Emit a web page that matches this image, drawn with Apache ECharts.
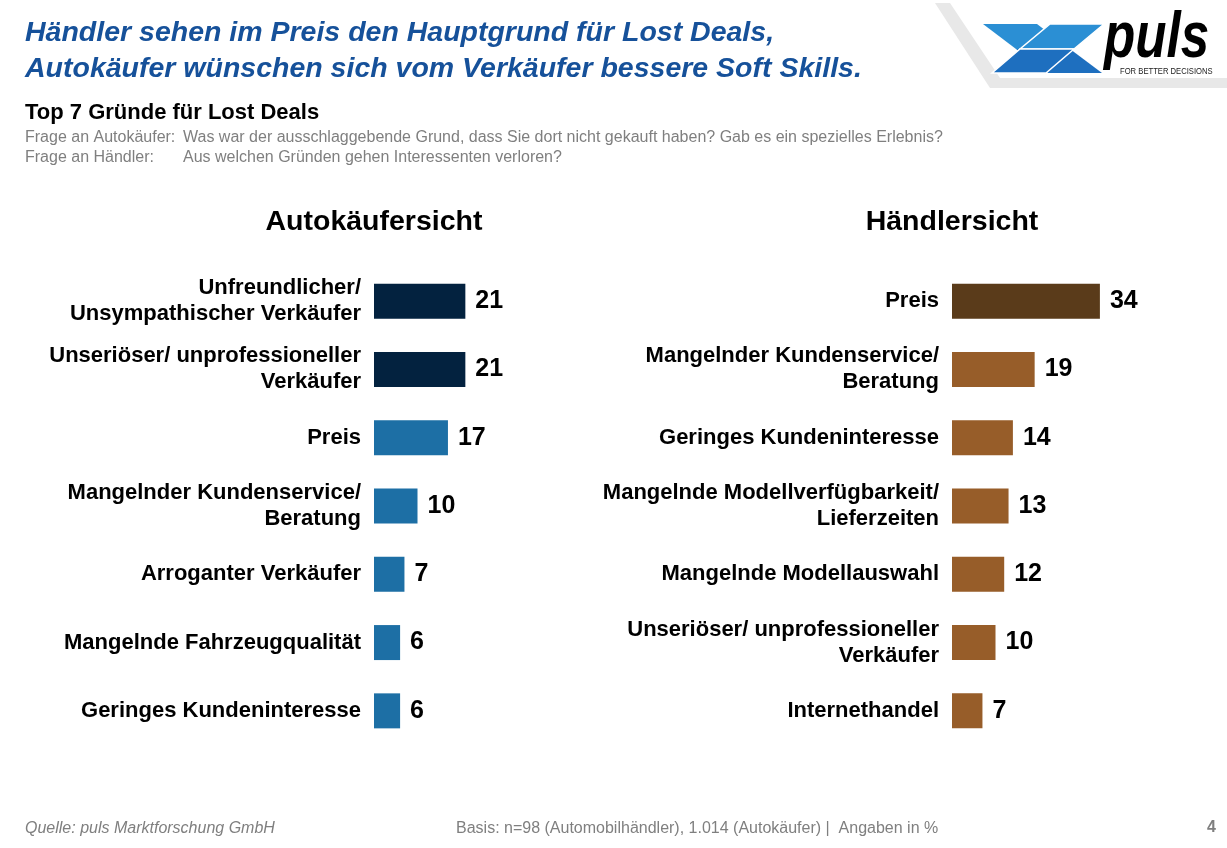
<!DOCTYPE html>
<html lang="de">
  <head>
    <meta charset="utf-8" />
    <style>
      html, body { margin: 0; width: 100%; height: 100%; background: #fff; }
      #container { width: 1227px; height: 848px; }
    </style>
    <script src="https://cdn.jsdelivr.net/npm/echarts@6/dist/echarts.min.js"></script>
  </head>
  <body>
    <div id="container"></div>
    <script>
      // Daten
      var buyerCats = [
        "Unfreundlicher/\nUnsympathischer Verkäufer",
        "Unseriöser/ unprofessioneller\nVerkäufer",
        "Preis",
        "Mangelnder Kundenservice/\nBeratung",
        "Arroganter Verkäufer",
        "Mangelnde Fahrzeugqualität",
        "Geringes Kundeninteresse"
      ];
      var buyerVals = [21, 21, 17, 10, 7, 6, 6];

      var dealerCats = [
        "Preis",
        "Mangelnder Kundenservice/\nBeratung",
        "Geringes Kundeninteresse",
        "Mangelnde Modellverfügbarkeit/\nLieferzeiten",
        "Mangelnde Modellauswahl",
        "Unseriöser/ unprofessioneller\nVerkäufer",
        "Internethandel"
      ];
      var dealerVals = [34, 19, 14, 13, 12, 10, 7];

      var FONT = "'Liberation Sans', Arial, sans-serif";
      var chart = echarts.init(document.getElementById("container"));

      function colored(vals, topN, topColor, baseColor) {
        return vals.map(function (v, i) {
          return { value: v, itemStyle: { color: i < topN ? topColor : baseColor } };
        });
      }

      function catAxis(idx, cats) {
        return {
          type: "category",
          gridIndex: idx,
          data: cats,
          inverse: true,
          axisLine: { show: false },
          axisTick: { show: false },
          axisLabel: {
            margin: 13,
            color: "#000",
            fontFamily: FONT,
            fontWeight: "bold",
            fontSize: 22,
            lineHeight: 26,
            align: "right",
            padding: [3, 0, 0, 0]
          }
        };
      }

      function valAxis(idx) {
        return {
          type: "value",
          gridIndex: idx,
          min: 0,
          max: 40,
          show: false,
          splitLine: { show: false }
        };
      }

      function barSeries(idx, data) {
        return {
          type: "bar",
          xAxisIndex: idx,
          yAxisIndex: idx,
          data: data,
          barWidth: 35,
          animation: false,
          label: {
            show: true,
            position: "right",
            distance: 10,
            color: "#000",
            fontFamily: FONT,
            fontWeight: "bold",
            fontSize: 25
          }
        };
      }

      var gray = "#7f7f7f";
      var light = "#2b8fd4", dark = "#1e6fbf";
      var option = {
        backgroundColor: "#fff",
        grid: [
          { left: 374, top: 267, width: 174, height: 478 },
          { left: 952, top: 267, width: 174, height: 478 }
        ],
        xAxis: [valAxis(0), valAxis(1)],
        yAxis: [catAxis(0, buyerCats), catAxis(1, dealerCats)],
        series: [
          barSeries(0, colored(buyerVals, 2, "#03223f", "#1d6fa5")),
          barSeries(1, colored(dealerVals, 1, "#5a3b1a", "#975d29"))
        ],
        graphic: [
          // Titel
          {
            type: "text", left: 25, top: 15,
            style: {
              text: "Händler sehen im Preis den Hauptgrund für Lost Deals,\nAutokäufer wünschen sich vom Verkäufer bessere Soft Skills.",
              fill: "#16519a", font: "italic bold 28.5px " + FONT, lineHeight: 36
            }
          },
          {
            type: "text", left: 25, top: 102,
            style: { text: "Top 7 Gründe für Lost Deals", fill: "#000", font: "bold 22px " + FONT }
          },
          {
            type: "text", left: 25, top: 128,
            style: { text: "Frage an Autokäufer:\nFrage an Händler:", fill: gray, font: "16px " + FONT, lineHeight: 20 }
          },
          {
            type: "text", left: 183, top: 128,
            style: {
              text: "Was war der ausschlaggebende Grund, dass Sie dort nicht gekauft haben? Gab es ein spezielles Erlebnis?\nAus welchen Gründen gehen Interessenten verloren?",
              fill: gray, font: "16px " + FONT, lineHeight: 20
            }
          },
          // Abschnittstitel
          {
            type: "text", x: 374, y: 222,
            style: { text: "Autokäufersicht", fill: "#000", font: "bold 28.5px " + FONT, align: "center", verticalAlign: "middle" }
          },
          {
            type: "text", x: 952, y: 222,
            style: { text: "Händlersicht", fill: "#000", font: "bold 28.5px " + FONT, align: "center", verticalAlign: "middle" }
          },
          // Fußzeile
          {
            type: "text", left: 25, top: 821,
            style: { text: "Quelle: puls Marktforschung GmbH", fill: gray, font: "italic 16px " + FONT }
          },
          {
            type: "text", left: 456, top: 821,
            style: { text: "Basis: n=98 (Automobilhändler), 1.014 (Autokäufer) |  Angaben in %", fill: gray, font: "16px " + FONT }
          },
          {
            type: "text", left: 1207, top: 820,
            style: { text: "4", fill: gray, font: "bold 16px " + FONT }
          },
          // Logo
          {
            type: "polygon",
            shape: { points: [[935, 3], [950, 3], [1000, 78], [1227, 78], [1227, 88], [990, 88]] },
            style: { fill: "#e8e8e8" }
          },
          {
            type: "polygon",
            shape: { points: [[983, 24], [1037, 24], [1070, 49], [1016, 49]] },
            style: { fill: light }
          },
          {
            type: "polygon",
            shape: { points: [[1016, 49], [1070, 49], [1102, 73], [1048, 73]] },
            style: { fill: dark }
          },
          {
            type: "polygon",
            shape: { points: [[1050, 24], [1104, 24], [1074, 49], [1020, 49]] },
            style: { fill: light, stroke: "#fff", lineWidth: 1.5 }
          },
          {
            type: "polygon",
            shape: { points: [[1020, 49], [1074, 49], [1046, 73], [992, 73]] },
            style: { fill: dark, stroke: "#fff", lineWidth: 1.5 }
          },
          {
            type: "text", x: 1104, y: 7, scaleX: 0.8, originX: 0,
            style: { text: "puls", fill: "#000", font: "italic bold 64px " + FONT }
          },
          {
            type: "text", x: 1120, y: 67, scaleX: 0.85, originX: 0,
            style: { text: "FOR BETTER DECISIONS", fill: "#222", font: "9px " + FONT }
          }
        ]
      };
      chart.setOption(option);
    </script>
  </body>
</html>
